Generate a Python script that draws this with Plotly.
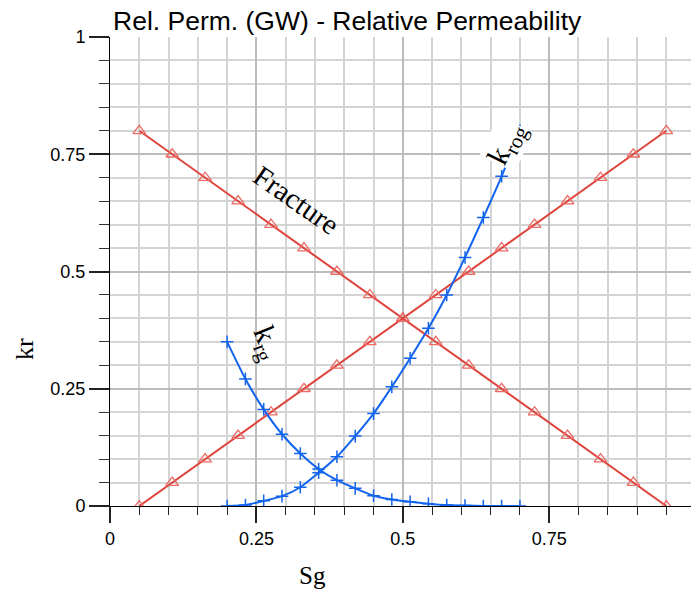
import plotly.graph_objects as go

# ---- data ----
sg_frac = [0.05, 0.10625, 0.1625, 0.21875, 0.275, 0.33125, 0.3875, 0.44375, 0.5,
           0.55625, 0.6125, 0.66875, 0.725, 0.78125, 0.8375, 0.89375, 0.95]
kr_frac_down = [0.8, 0.75, 0.7, 0.65, 0.6, 0.55, 0.5, 0.45, 0.4,
                0.35, 0.3, 0.25, 0.2, 0.15, 0.1, 0.05, 0.0]
kr_frac_up = [0.0, 0.05, 0.1, 0.15, 0.2, 0.25, 0.3, 0.35, 0.4,
              0.45, 0.5, 0.55, 0.6, 0.65, 0.7, 0.75, 0.8]

sg_gas = [0.2, 0.23125, 0.2625, 0.29375, 0.325, 0.35625, 0.3875, 0.41875, 0.45,
          0.48125, 0.5125, 0.54375, 0.575, 0.60625, 0.6375, 0.66875, 0.7]
krg = [0.35, 0.271, 0.206, 0.153, 0.112, 0.079, 0.055, 0.0376, 0.022,
       0.014, 0.009, 0.005, 0.002, 0.001, 0.0, 0.0, 0.0]
krog = [0.0, 0.002, 0.011, 0.021, 0.040, 0.071, 0.105, 0.149, 0.197,
        0.254, 0.315, 0.379, 0.450, 0.530, 0.615, 0.703, 0.80]

y_ticks = [0, 0.25, 0.5, 0.75, 1]
y_ticklabels = ["0", "0.25", "0.5", "0.75", "1"]
x_ticks = [0, 0.25, 0.5, 0.75, 1]
x_ticklabels = ["0", "0.25", "0.5", "0.75", "1"]

RED = "rgb(222,68,60)"
RED_MK = "rgb(236,105,100)"
BLUE = "rgb(18,100,238)"

fig = go.Figure()
for yv in (kr_frac_down, kr_frac_up):
    fig.add_trace(go.Scatter(
        x=sg_frac, y=yv, mode="lines+markers",
        line=dict(color=RED, width=2),
        marker=dict(symbol="triangle-up-open", size=11, color=RED_MK,
                    line=dict(color=RED_MK, width=1.3)),
        showlegend=False))
for yv in (krg, krog):
    fig.add_trace(go.Scatter(
        x=sg_gas, y=yv, mode="lines+markers",
        line=dict(color=BLUE, width=2, shape="spline", smoothing=0.6),
        marker=dict(symbol="cross-thin-open", size=9, color=BLUE,
                    line=dict(color=BLUE, width=1.5)),
        showlegend=False))

W, H = 691, 594
L, T, B = 110, 37, 88
unit_x = 585.6
xmax = (W - L) / unit_x

axis_common = dict(
    showline=True, linecolor="black", linewidth=1,
    ticks="outside", tickcolor="#222", tickwidth=2,
    showgrid=True, gridcolor="rgb(188,188,188)", gridwidth=2,
    zeroline=False,
    tickfont=dict(family="Liberation Sans", size=18, color="black"),
)

fig.update_xaxes(
    range=[0, xmax], tickmode="array", tickvals=x_ticks, ticktext=x_ticklabels,
    ticklen=16,
    minor=dict(dtick=0.05, tick0=0, ticks="outside", ticklen=8, tickcolor="#222",
               tickwidth=1, showgrid=True, gridcolor="rgb(212,212,212)", gridwidth=1.5),
    **axis_common)
fig.update_yaxes(
    range=[0, 1], tickmode="array", tickvals=y_ticks, ticktext=y_ticklabels,
    ticklen=20,
    minor=dict(dtick=0.05, tick0=0, ticks="outside", ticklen=10, tickcolor="#333",
               tickwidth=1, showgrid=True, gridcolor="rgb(212,212,212)", gridwidth=1.5),
    **axis_common)

serif = "Liberation Serif"
annotations = [
    dict(text="Fracture", x=0.318, y=0.652, textangle=35, showarrow=False,
         font=dict(family=serif, size=29, color="black")),
    dict(text="k<sub>rg</sub>", x=0.267, y=0.347, textangle=68, showarrow=False,
         font=dict(family=serif, size=30, color="black")),
    dict(text="k<sub>rog</sub>", x=0.677, y=0.772, textangle=-64, showarrow=False,
         bgcolor="white", borderpad=0,
         font=dict(family=serif, size=30, color="black")),
    dict(text="Sg", xref="paper", yref="paper", x=(312 - L) / (W - L),
         y=-(575 - (H - B)) / (H - T - B), showarrow=False,
         xanchor="center", yanchor="middle",
         font=dict(family=serif, size=25, color="black")),
    dict(text="kr", xref="paper", yref="paper", x=-(L - 24) / (W - L),
         y=(H - B - 349) / (H - T - B), textangle=-90, showarrow=False,
         xanchor="center", yanchor="middle",
         font=dict(family=serif, size=26, color="black")),
]
for a in annotations:
    a.setdefault("xref", "x")
    a.setdefault("yref", "y")
fig.update_layout(
    width=W, height=H,
    margin=dict(l=L, r=0, t=T, b=B),
    paper_bgcolor="white", plot_bgcolor="white",
    title=dict(text="Rel. Perm. (GW) - Relative Permeability",
               x=113 / W, xanchor="left", y=1 - 21 / H, yanchor="middle",
               font=dict(family="Liberation Sans", size=26.5, color="black")),
    annotations=annotations,
)

fig.write_html("out.html")
